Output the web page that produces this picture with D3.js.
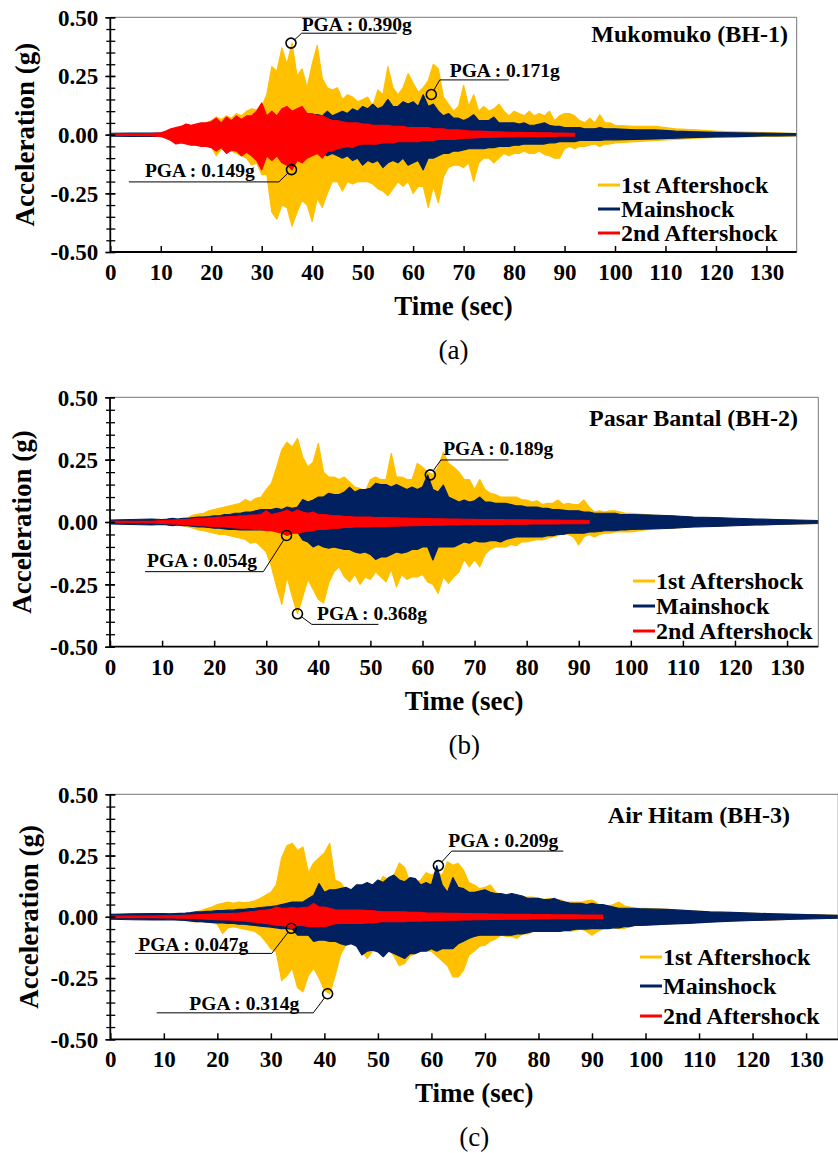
<!DOCTYPE html>
<html>
<head>
<meta charset="utf-8">
<script src="https://cdn.jsdelivr.net/npm/d3@7/dist/d3.min.js"></script>
<style>
  body { margin: 0; background: #fff; }
  svg text { font-family: "Liberation Serif", "Times New Roman", serif; }
</style>
</head>
<body>
<svg id="chart" width="838" height="1153"></svg>
<script>
/* Data: envelope of each record, in units of 0.01 g */
const UNIT = 0.01;
const TIME = [0,4,8,
  10,11,12,13,14,15,16,17,18,19,20,21,22,23,24,25,26,27,28,29,
  30,31,32,33,34,35,36,37,38,39,40,41,42,43,44,45,46,47,48,49,
  50,51,52,53,54,55,56,57,58,59,60,61,62,63,64,65,66,67,68,69,
  70,71,72,73,74,75,76,77,78,79,80,81,82,83,84,85,86,87,88,89,
  90,91,92,93,94,95,96,97,98,99,100,
  104,108,112,116,120,124,128,132,136];

const SERIES = ['1st Aftershock', 'Mainshock', '2nd Aftershock'];
const COLORS = ['#FFC000', '#002060', '#FF0000'];

const X_TICKS = [0,10,20,30,40,50,60,70,80,90,100,110,120,130];
const Y_TICKS = [-0.5, -0.25, 0, 0.25, 0.5];
const Y_TICK_LABELS = ['-0.50', '-0.25', '0.00', '0.25', '0.50'];

/* (a) Mukomuko */
const aYelUp = [0.3,0.3,0.3,
  0.5,0.8,1.2,1.8,2.5,3,3.5,4,4.5,5,
  6,7.5,6.5,8,7,9,8,10,11,10.5,
  12,17,29,27,37,30,39,25,28,20,
  30,38,24,20,19,20,15,17,16,14,
  15,16,12,19,17,29,20,17,20,26,
  22,18,20,23,30,28,16,13,10,12,
  21,12,17,10,12,10,11,13,10,8,
  10,9,8,10,8,9,8,10,6,8,
  9,9,8,6,5,7,5,8.5,5,5,
  4,
  3.5,3.5,2.5,2,1.5,1.2,1,0.8,0.5];
const aYelLo = [-0.3,-0.3,-0.3,
  -0.5,-0.8,-1.2,-1.8,-2.5,-3,-3.5,-4,-4.5,-5,
  -5,-9,-6,-7,-7,-8,-9,-10,-13,-12,
  -17,-17,-33,-36,-30,-31,-39,-33,-28,-30,
  -37,-27,-31,-25,-20,-20,-24,-20,-21,-20,
  -20,-20,-21,-23,-24,-26,-23,-20,-22,-20,
  -25,-22,-22,-31,-22,-29,-18,-14,-13,-13,
  -14,-12,-20,-12,-10,-10,-12,-10,-8,-9,
  -8,-8,-7,-8,-8,-7,-8.5,-9,-10,-10,
  -6,-5,-6,-5,-5,-4.5,-4,-5,-4,-4,
  -3.5,
  -3,-2.5,-2,-1.5,-1.2,-1,-0.8,-0.7,-0.5];
const aNavUp = [0.6,0.7,0.7,
  0.7,0.7,0.8,1,1.2,1.5,1.5,2,2,2.5,
  2.5,3,3,3.5,3.5,4,4,4.5,4.5,5,
  5,5.5,5.5,6,6,6.5,7,7,7.5,8,
  8,8.5,8,10,8,9,10,9,11,10,
  12,11,13,11,12,15,12,12,14,13,
  14,12,17,12,13,10,8,9,7,7,
  6,7,8.5,6,6,6,7.5,5,5,5,
  5,4.5,5,4,4,4.5,5,4,3.5,3.5,
  3,3,3,3,2.5,2.5,2.5,3,2.5,2.5,
  2.5,
  2,2,1.5,1.2,1,0.8,0.7,0.6,0.5];
const aNavLo = [-0.6,-0.7,-0.7,
  -0.7,-0.7,-0.8,-1,-1.2,-1.5,-1.5,-2,-2,-2.5,
  -2.5,-3,-3,-3.5,-3.5,-4,-4,-4.5,-4.5,-5,
  -5,-5.5,-5.5,-6,-6,-6.5,-7,-7,-7.5,-8,
  -8,-8,-8,-9,-8,-9,-10,-9,-11,-10,
  -13,-11,-12,-11,-14,-12,-11,-12,-10,-13,
  -12,-11,-15,-10,-10,-9,-8,-8,-7,-7,
  -6.5,-6,-6,-6,-6,-5.5,-5.5,-5,-5,-5,
  -4.5,-4.5,-4,-4,-4,-4,-4,-3.5,-3.5,-3,
  -3,-3,-3,-2.5,-2.5,-2.5,-2.5,-2.5,-2.2,-2.2,
  -2.2,
  -2,-1.8,-1.5,-1.2,-1,-0.8,-0.6,-0.5,-0.4];
const aRedUp = [0.3,0.3,0.4,
  0.8,1.5,2.5,3,3.5,4.5,4,4.5,5,5,
  5.5,7,5,7.5,6,8,6.5,8,8,10,
  13.5,8,10,8,11,12,10,11,12,9,
  9,8,8,7,6,6,5.5,5,5,5,
  4.5,4.5,4,4,4,4,3.5,3.5,3.5,3,
  3,3,3,3,2.5,2.5,2.5,2,2,2,
  1.8,1.6,1.5,1.5,1.4,1.3,1.2,1.2,1.1,1,
  1,1,0.9,0.9,0.9,0.8,0.8,0.8,0.7,0.7,
  0.7,0.6,0.6];
const aRedLo = [-0.3,-0.3,-0.4,
  -0.8,-1.5,-2.5,-4,-3.5,-4,-4.5,-4.5,-5,-5,
  -5.5,-7,-5.5,-8,-6.5,-7,-9,-7.5,-9,-11,
  -15,-9,-11,-9,-12,-13,-15,-11,-12,-10,
  -9,-8,-10,-7,-7,-6,-5.5,-5,-5.5,-4.5,
  -4,-4,-4,-4,-3.5,-3.5,-3.5,-3,-3,-3,
  -3,-3,-2.5,-2.5,-2.5,-2,-2,-2,-2,-1.8,
  -1.5,-1.5,-1.4,-1.3,-1.2,-1.2,-1.1,-1.1,-1,-1,
  -1,-0.9,-0.9,-0.8,-0.8,-0.8,-0.7,-0.7,-0.7,-0.6,
  -0.6,-0.6,-0.6];
const aPgaTime = [35.8, 63.6, 35.9];
const aPgaValue = [0.390, 0.171, -0.149];

/* (b) Pasar Bantal */
const bYelUp = [0.3,0.3,0.4,
  0.5,0.6,0.8,1,1.3,1.8,2.8,3.2,3.5,4.5,
  5,5.5,6,6.5,7,7.5,9,8,9.5,10,
  13,15.5,22,29,32,30,33.5,26,22,24,
  31.5,20,18,18,17,18,16,14,13.5,12,
  17,18,17,17,27.5,18,18,17,17,23.5,
  22,20,19,22,28,23.5,22,20,17,17,
  13,17,13,11.5,11,10,10,10,10,9,
  8.8,8,8.5,7,7.5,7.5,8.8,7,7.5,7,
  7,8.8,6,4,4.5,4,4.5,4.5,4,3.5,
  3.5,
  2.8,2.4,1.9,1.6,1.3,1,0.8,0.6,0.5];
const bYelLo = [-0.3,-0.3,-0.4,
  -0.5,-0.7,-0.9,-1.2,-1.5,-2,-2.5,-3.2,-3.5,-4,
  -4.5,-5,-5,-5.5,-6,-6.5,-7,-8.5,-8,-10,
  -12,-18,-26,-33,-22,-30,-36.8,-30,-23,-27,
  -31,-32.5,-24.5,-20,-18,-22,-24,-21,-25,-22,
  -23,-20,-22,-24,-19,-26,-21,-23,-22,-22,
  -21,-24,-25,-28.6,-22,-24.6,-22,-20,-15,-18,
  -15,-18,-13,-11,-10,-10,-10,-9,-9.5,-8,
  -8,-7.5,-7,-7.2,-6.5,-6,-5.5,-4.5,-5,-6,
  -9.2,-6,-5,-6,-5,-4.5,-4.5,-4,-4,-4,
  -4,
  -2.8,-2.5,-2,-1.7,-1.4,-1.2,-1,-0.8,-0.6];
const bNavUp = [0.8,1,1.2,
  1,1.2,1.5,1.2,1.5,1.5,1.8,2,2,2.2,
  2.5,2.5,3,3,3.5,3.5,4,4,4.5,5,
  5,5,5.5,5,6,5.5,6,9,8,8.8,
  10,10,11.5,11,11,12,14,12,13,13,
  13.5,15.5,15,15,14,15,14,13,14,13,
  14,18.9,13,12,14.8,10,9,8,8.8,8,
  8.5,10,8,8,7.5,7.5,7.5,7,6.5,6.5,
  6,6,6,5.5,5.5,5,5,4.8,4.5,4.5,
  4.5,4,4,3.5,3.5,3.5,3.5,3.5,3,3,
  3,
  2.8,2.5,2,1.8,1.5,1.2,1,0.8,0.6];
const bNavLo = [-0.8,-1,-1.2,
  -1,-1.2,-1.5,-1.2,-1.5,-1.5,-1.8,-2,-2,-2.2,
  -2.5,-2.5,-2.8,-3,-3,-3.2,-3.2,-3.2,-3.2,-3.2,
  -3.2,-3.2,-3.2,-3.2,-3.5,-3.5,-4,-7.2,-8,-10,
  -9,-10,-10.5,-10,-10.5,-11,-11,-12,-12.5,-12,
  -13,-15,-14,-14,-13,-12,-12.5,-12,-11,-11,
  -10,-10,-15.2,-10,-10,-10,-10,-9,-8,-8.5,
  -7.5,-8,-8,-7.5,-7.5,-8,-7,-6.5,-6,-6,
  -6,-6,-6,-6,-5.5,-5.5,-5,-5,-4.5,-4.5,
  -4.5,-4.5,-4,-4,-3.8,-3.5,-3.5,-3.5,-3.2,-3.2,
  -3,
  -2.8,-2.5,-2,-1.8,-1.5,-1.2,-1,-0.8,-0.6];
const bRedUp = [0.3,0.3,0.3,
  0.6,0.7,0.8,0.9,1,1.1,1.3,1.5,1.5,1.7,
  1.8,2,2,2.2,2.2,2.5,2.5,2.8,2.8,3,
  4.5,3,3.5,4,4.8,3.8,4.8,4,3.5,4,
  3,3,2.8,2.5,2.5,2.2,2.2,2,2,2,
  2,1.8,1.8,1.8,1.7,1.7,1.6,1.6,1.5,1.5,
  1.4,1.4,1.3,1.3,1.3,1.2,1.2,1.2,1.1,1.1,
  1.1,1,1,1,1,1,0.9,0.9,0.9,0.9,
  0.9,0.8,0.8,0.8,0.8,0.8,0.8,0.7,0.7,0.7,
  0.7,0.7,0.6];
const bRedLo = [-0.3,-0.3,-0.3,
  -0.6,-0.7,-0.8,-0.9,-1,-1.1,-1.3,-1.5,-1.5,-1.7,
  -1.8,-2,-2,-2.2,-2.4,-2.5,-2.7,-2.8,-3,-3,
  -3.5,-3.5,-4,-4.5,-5.4,-4.5,-4.5,-4,-3.8,-3.5,
  -3,-3,-2.8,-2.5,-2.5,-2.2,-2.2,-2,-2,-2,
  -2,-1.8,-1.8,-1.8,-1.7,-1.7,-1.6,-1.6,-1.5,-1.5,
  -1.4,-1.4,-1.3,-1.3,-1.3,-1.2,-1.2,-1.2,-1.1,-1.1,
  -1.1,-1,-1,-1,-1,-1,-0.9,-0.9,-0.9,-0.9,
  -0.9,-0.8,-0.8,-0.8,-0.8,-0.8,-0.8,-0.7,-0.7,-0.7,
  -0.7,-0.7,-0.6];
const bPgaTime = [61.5, 33.9, 36.0];
const bPgaValue = [0.189, -0.054, -0.368];

/* (c) Air Hitam */
const cYelUp = [0.3,0.3,0.4,
  0.5,0.6,0.8,1,1.2,1.4,2,2.5,3.4,4,
  5,5.5,6,5.5,6,5.8,6,6.5,7.5,8.8,
  10,13,24,29,30,27,28.5,18,22,24,
  26,30,15,14,11,11,13,12,12,13,
  13,16.5,15,17,22,20,14,14,15,18,
  17,18,17,22.5,21,21.8,19,14,13,11.5,
  12,13,10,9,8,8,8,8,8,8,
  7.5,7,7.5,7,7,6,6,6,6,6.5,
  6.8,5.5,4,4.5,5,6,4.5,4,3.5,3.4,
  3.4,
  3,2.4,2,1.7,1.4,1.2,1,0.8,0.6];
const cYelLo = [-0.3,-0.3,-0.4,
  -0.5,-0.7,-0.9,-1.2,-1.5,-2,-2,-2,-2.2,-2.5,
  -3,-6.8,-4.5,-4,-4.5,-5,-5.5,-6,-7.5,-10,
  -13,-14.3,-26,-24,-21,-29,-30.6,-24,-21,-25,
  -30,-31.4,-24,-15.6,-11.5,-10,-10,-14,-17,-14,
  -13,-15.6,-13,-16,-20,-19,-16,-15,-14,-14,
  -14,-16,-18,-20,-24.5,-24.5,-21.8,-15.6,-14,-12,
  -11.6,-10,-9,-7.5,-8,-8,-8.8,-7,-7,-6,
  -6,-6,-6,-6,-6,-6,-6,-5.5,-5,-6,
  -7.5,-6,-5,-4,-4.5,-4.8,-4.8,-4,-3.5,-3.4,
  -3.4,
  -3,-2.4,-2,-1.7,-1.5,-1.3,-1,-0.8,-0.6];
const cNavUp = [1,1.2,1.3,
  1.3,1.2,1.3,1.4,1.5,1.7,2,2,2.2,2.3,
  2.5,2.5,2.7,2.7,3,3,3.3,3.5,3.8,4,
  4.2,4.5,5,5.5,6,6,6,7.5,8.8,13.6,
  10,11,11,11.5,12,11,13,13,14,13,
  15,14,16,17,15,14.3,16,15.6,13,14,
  13,20.9,13,10,16,12,11.5,10,10,10.5,
  11,10,9.5,9.5,9,9.5,9,8.5,7.5,7.5,
  7.5,7,7,7.5,6.5,6,5.5,5.5,5.5,5,
  5.5,5,5,4.5,4,3.5,3.5,3.5,3.5,3.2,
  3.2,
  3,2.5,2,1.8,1.5,1.2,1,0.8,0.6];
const cNavLo = [-1,-1.2,-1.3,
  -1.3,-1.2,-1.3,-1.4,-1.5,-1.7,-2,-2,-2.2,-2.3,
  -2.5,-2.5,-2.7,-2.7,-3,-3,-3.3,-3.5,-3.8,-4,
  -4.2,-4.5,-4.8,-4.8,-5,-7.5,-7.5,-7.5,-10,-9.5,
  -9.5,-10,-10,-11,-11.6,-11,-12,-15.6,-14,-13.6,
  -14.3,-16.3,-14,-15,-16,-17,-15,-15,-14,-14,
  -13,-14,-13,-13,-13,-11,-10,-8.8,-8,-7.5,
  -7.5,-7.5,-7.5,-7.5,-7.5,-7.5,-7,-7,-6.5,-6,
  -6,-6,-6,-6,-6,-5.5,-5.5,-5,-5,-5,
  -4.8,-4.8,-4.8,-4.8,-4.5,-4.5,-4,-4,-3.5,-3.5,
  -3.4,
  -3,-2.7,-2.2,-1.8,-1.5,-1.3,-1,-0.8,-0.6];
const cRedUp = [0.3,0.3,0.3,
  0.4,0.4,0.5,0.5,0.6,0.7,0.8,0.9,1,1.1,
  1.2,1.3,1.3,1.4,1.5,1.7,2,2.2,2.5,2.7,
  3,4,3.5,3.5,3.8,3.5,3.8,4,5.4,4,
  4,3.5,2.8,2.7,2.7,2.7,2.7,2.7,2.5,2.5,
  2.2,2,2,2,2,2,1.8,1.8,1.8,1.6,
  1.5,1.5,1.5,1.4,1.4,1.4,1.3,1.3,1.2,1.2,
  1.2,1.1,1.1,1.1,1,1,1,1,1,0.9,
  0.9,0.9,0.9,0.8,0.8,0.8,0.8,0.8,0.7,0.7,
  0.7,0.7,0.7];
const cRedLo = [-0.3,-0.3,-0.3,
  -0.4,-0.4,-0.5,-0.5,-0.6,-0.7,-0.8,-0.9,-1,-1.1,
  -1.2,-1.3,-1.3,-1.4,-1.5,-1.7,-2,-2.2,-2.5,-2.7,
  -3,-3.4,-3.5,-4,-4.7,-3.5,-3.5,-4,-4,-4,
  -4,-3.5,-2.8,-2.7,-2.7,-2.7,-2.7,-2.7,-2.5,-2.5,
  -2.2,-2,-2,-2,-2,-2,-1.8,-1.8,-1.8,-1.6,
  -1.5,-1.5,-1.5,-1.4,-1.4,-1.4,-1.3,-1.3,-1.2,-1.2,
  -1.2,-1.1,-1.1,-1.1,-1,-1,-1,-1,-1,-0.9,
  -0.9,-0.9,-0.9,-0.8,-0.8,-0.8,-0.8,-0.8,-0.7,-0.7,
  -0.7,-0.7,-0.7];
const cPgaTime = [61.3, 33.8, 40.6];
const cPgaValue = [0.209, -0.047, -0.314];

/* Layout of each panel */
const PANELS = [
  { tag: '(a)', title: 'Mukomuko (BH-1)',
    left: 110.3, right: 796.7, top: 17.3, bottom: 252,
    titleX: 788, titleY: 42, ylabX: 25,
    legX: 598, legY: [185, 209, 233],
    up: [aYelUp, aNavUp, aRedUp], lo: [aYelLo, aNavLo, aRedLo],
    pgaTime: aPgaTime, pgaValue: aPgaValue,
    notes: [
      { kx: 10.7, ky: -9.9, len: 95, tx: 0, ty: -2, anchor: 'start' },
      { kx: 8.5, ky: -14.6, len: 69, tx: 10, ty: -3, anchor: 'start' },
      { kx: -12.6, ky: 12.3, len: -150, tx: -24, ty: -5, anchor: 'end' }
    ] },
  { tag: '(b)', title: 'Pasar Bantal (BH-2)',
    left: 110, right: 818.3, top: 397.3, bottom: 646.7,
    titleX: 798, titleY: 426, ylabX: 22,
    legX: 633, legY: [581, 606, 631],
    up: [bYelUp, bNavUp, bRedUp], lo: [bYelLo, bNavLo, bRedLo],
    pgaTime: bPgaTime, pgaValue: bPgaValue,
    notes: [
      { kx: 10.6, ky: -14.9, len: 67.6, tx: 2.3, ty: -5, anchor: 'start' },
      { kx: -23.2, ky: 36.2, len: -118.3, tx: -6.3, ty: -4.7, anchor: 'end' },
      { kx: 14.3, ky: 10.6, len: 66.6, tx: 5.3, ty: -4.3, anchor: 'start' }
    ] },
  { tag: '(c)', title: 'Air Hitam (BH-3)',
    left: 110.3, right: 838.2, top: 794.3, bottom: 1039.3,
    titleX: 790, titleY: 823, ylabX: 29,
    legX: 640, legY: [957, 986, 1016],
    up: [cYelUp, cNavUp, cRedUp], lo: [cYelLo, cNavLo, cRedLo],
    pgaTime: cPgaTime, pgaValue: cPgaValue,
    notes: [
      { kx: 13.3, ky: -14.5, len: 111.6, tx: -3.4, ty: -4, anchor: 'start' },
      { kx: -19.5, ky: 25.1, len: -136.7, tx: -23.4, ty: -2.3, anchor: 'end' },
      { kx: -14.3, ky: 19.1, len: -156.6, tx: -14, ty: -2.7, anchor: 'end' }
    ] }
];

const svg = d3.select('#chart');

function drawPanel(p, pi) {
  const x = d3.scaleLinear().domain([0, 136]).range([p.left, p.right]);
  const y = d3.scaleLinear().domain([-0.5, 0.5]).range([p.bottom, p.top]);
  const g = svg.append('g');

  const clipId = 'clip' + pi;
  g.append('clipPath').attr('id', clipId).append('rect')
    .attr('x', p.left).attr('y', p.top)
    .attr('width', p.right - p.left).attr('height', p.bottom - p.top);

  // waveforms: 1st aftershock, mainshock, 2nd aftershock on top
  const wave = g.append('g').attr('clip-path', `url(#${clipId})`);
  SERIES.forEach((name, i) => {
    const pts = p.up[i].map((u, k) => ({ t: TIME[k], u: u * UNIT, l: p.lo[i][k] * UNIT }));
    const area = d3.area()
      .x(d => x(d.t))
      .y0(d => y(d.l))
      .y1(d => y(d.u));
    wave.append('path').datum(pts)
      .attr('d', area)
      .attr('fill', COLORS[i])
      .attr('stroke', COLORS[i])
      .attr('stroke-width', 1.2)
      .attr('stroke-linejoin', 'round');
  });

  // frame
  g.append('line').attr('x1', p.left).attr('x2', p.right).attr('y1', p.top).attr('y2', p.top)
    .attr('stroke', '#777').attr('stroke-width', 1);
  g.append('line').attr('x1', p.right).attr('x2', p.right).attr('y1', p.top).attr('y2', p.bottom)
    .attr('stroke', '#777').attr('stroke-width', 1);

  // y axis
  const yMinor = g.append('g').attr('transform', `translate(${p.left},0)`)
    .call(d3.axisLeft(y).tickValues(d3.range(-0.5, 0.501, 0.05)).tickFormat('').tickSizeOuter(0));
  yMinor.select('.domain').remove();
  yMinor.selectAll('.tick line').attr('x1', -4).attr('x2', 5).attr('stroke', '#000').attr('stroke-width', 1.3);

  const yAxis = g.append('g').attr('transform', `translate(${p.left},0)`)
    .call(d3.axisLeft(y).tickValues(Y_TICKS)
      .tickFormat((d, i) => Y_TICK_LABELS[i]).tickSize(5).tickPadding(7).tickSizeOuter(0));
  yAxis.select('.domain').remove();
  yAxis.selectAll('.tick line').attr('x1', -5).attr('x2', 5).attr('stroke', '#000').attr('stroke-width', 1.5);
  yAxis.selectAll('.tick text')
    .attr('font-family', '"Liberation Serif", serif').attr('font-size', 23)
    .attr('font-weight', 'bold').attr('fill', '#000').attr('dy', '0.34em');

  // x axis
  const xAxis = g.append('g').attr('transform', `translate(0,${p.bottom})`)
    .call(d3.axisBottom(x).tickValues(X_TICKS).tickSize(-6).tickSizeOuter(0));
  xAxis.select('.domain').remove();
  xAxis.selectAll('.tick line').attr('stroke', '#000').attr('stroke-width', 1.5);
  xAxis.selectAll('.tick text')
    .attr('font-family', '"Liberation Serif", serif').attr('font-size', 23)
    .attr('font-weight', 'bold').attr('fill', '#000')
    .attr('y', 28).attr('dy', 0);

  g.append('line').attr('x1', p.left).attr('x2', p.left).attr('y1', p.top).attr('y2', p.bottom)
    .attr('stroke', '#000').attr('stroke-width', 1.8);
  g.append('line').attr('x1', p.left).attr('x2', p.right).attr('y1', p.bottom).attr('y2', p.bottom)
    .attr('stroke', '#000').attr('stroke-width', 1.8);

  // axis titles
  const cx = (p.left + Math.min(p.right, 838)) / 2 + (pi === 2 ? 1 : 0);
  g.append('text').attr('x', (p.left + p.right) / 2).attr('y', p.bottom + 63)
    .attr('text-anchor', 'middle').attr('font-size', 27).attr('font-weight', 'bold')
    .text('Time (sec)');
  g.append('text').attr('x', (p.left + p.right) / 2).attr('y', p.bottom + 107)
    .attr('text-anchor', 'middle').attr('font-size', 27)
    .text(p.tag);
  g.append('text')
    .attr('transform', `translate(${p.ylabX},${(p.top + p.bottom) / 2}) rotate(-90)`)
    .attr('text-anchor', 'middle').attr('dy', '0.35em')
    .attr('font-size', 27).attr('font-weight', 'bold')
    .text('Acceleration (g)');

  // station name
  g.append('text').attr('x', p.titleX).attr('y', p.titleY)
    .attr('text-anchor', 'end').attr('font-size', 24).attr('font-weight', 'bold')
    .text(p.title);

  // legend
  SERIES.forEach((name, i) => {
    const ly = p.legY[i];
    g.append('line').attr('x1', p.legX).attr('x2', p.legX + 22).attr('y1', ly).attr('y2', ly)
      .attr('stroke', COLORS[i]).attr('stroke-width', 3);
    g.append('text').attr('x', p.legX + 23).attr('y', ly + 8)
      .attr('font-size', 24).attr('font-weight', 'bold')
      .text(name);
  });

  // PGA callouts
  p.pgaTime.forEach((t, i) => {
    const v = p.pgaValue[i];
    const n = p.notes[i];
    const px = x(t), py = y(v);
    const r = 5;
    const kx = px + n.kx, ky = py + n.ky;
    const dist = Math.hypot(n.kx, n.ky);
    g.append('circle').attr('cx', px).attr('cy', py).attr('r', r)
      .attr('fill', 'none').attr('stroke', '#000').attr('stroke-width', 1.6);
    g.append('line')
      .attr('x1', px + n.kx / dist * r).attr('y1', py + n.ky / dist * r)
      .attr('x2', kx).attr('y2', ky)
      .attr('stroke', '#000').attr('stroke-width', 1);
    g.append('line').attr('x1', kx).attr('x2', kx + n.len).attr('y1', ky).attr('y2', ky)
      .attr('stroke', '#000').attr('stroke-width', 1);
    g.append('text').attr('x', kx + n.tx).attr('y', ky + n.ty)
      .attr('text-anchor', n.anchor).attr('font-size', 19.5).attr('font-weight', 'bold')
      .text('PGA : ' + Math.abs(v).toFixed(3) + 'g');
  });
}

PANELS.forEach(drawPanel);
</script>
</body>
</html>
